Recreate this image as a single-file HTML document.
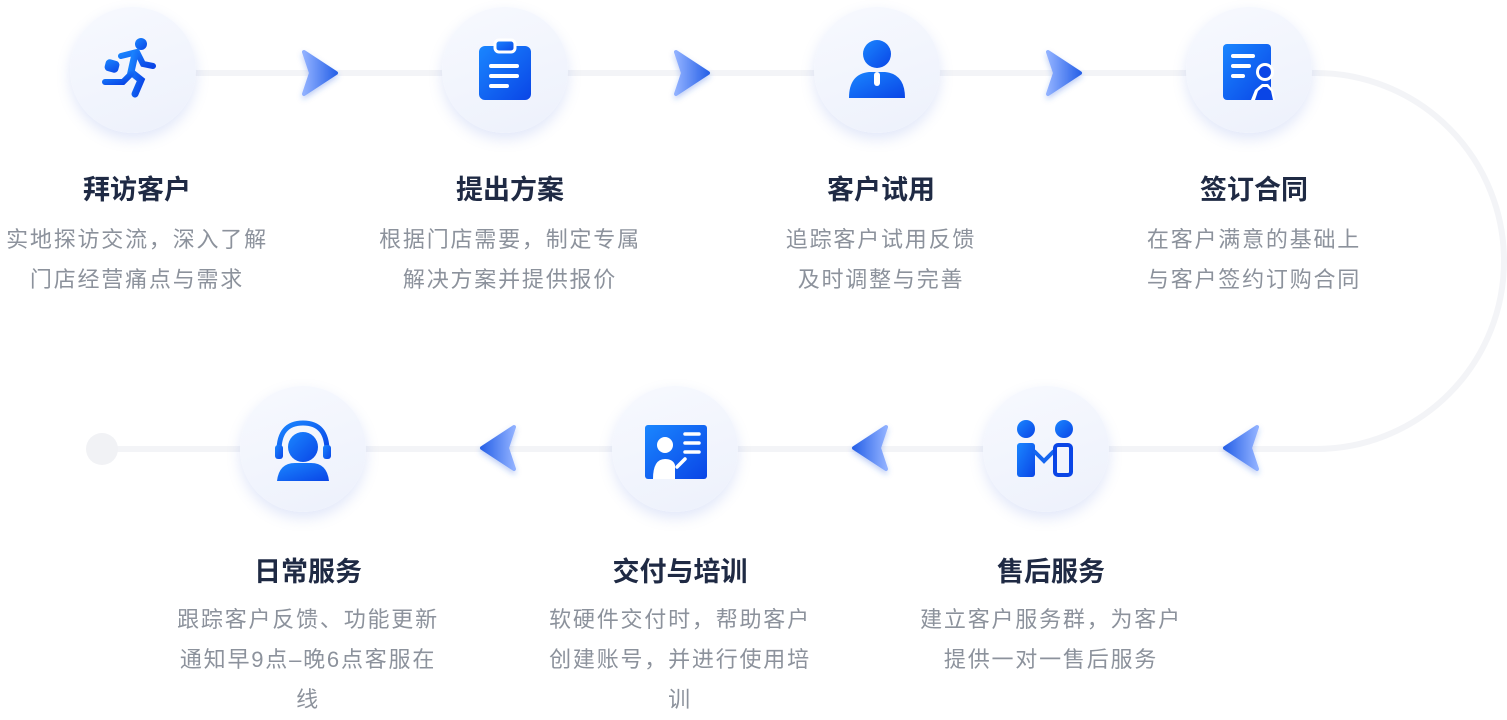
<!DOCTYPE html>
<html><head><meta charset="utf-8"><style>
body{margin:0;width:1507px;height:720px;background:#fff;overflow:hidden;position:relative;font-family:"Liberation Sans","Noto Sans CJK SC",sans-serif}
.c{position:absolute;width:126px;height:126px;border-radius:50%;background:linear-gradient(160deg,#f7f9fe,#edf1fc);box-shadow:0 6px 14px rgba(90,120,220,0.18)}
.c svg{position:absolute;left:31px;top:31px}
.t{position:absolute;width:300px;text-align:center;font-size:27px;font-weight:bold;color:#1f2a44}
.d{position:absolute;width:300px;text-align:center;font-size:22px;letter-spacing:1.8px;line-height:40px;color:#8c929c}
.d span{display:inline-block;width:275px}
</style></head><body>
<svg width="1507" height="720" style="position:absolute;left:0;top:0">
<defs>
<linearGradient id="ag" x1="0" x2="1"><stop offset="0" stop-color="#8fb0ff"/><stop offset="1" stop-color="#2a63e8"/></linearGradient>
<linearGradient id="ag2" x1="1" x2="0"><stop offset="0" stop-color="#8fb0ff"/><stop offset="1" stop-color="#2a63e8"/></linearGradient>
<filter id="sh"><feDropShadow dx="0" dy="3" stdDeviation="3" flood-color="#3060e0" flood-opacity="0.3"/></filter>
</defs>
<g stroke="#f3f4f7" stroke-width="6" fill="none">
<line x1="133" y1="73" x2="1316" y2="73"/>
<path d="M1316 73 A188 188 0 0 1 1316 449"/>
<line x1="102" y1="449" x2="1316" y2="449"/>
</g>
<circle cx="102" cy="449" r="16" fill="#f1f2f5"/>
<g filter="url(#sh)">
<path d="M304 52 L336 73 L304 94 L311 73Z" fill="url(#ag)" stroke="url(#ag)" stroke-width="4" stroke-linejoin="round"/>
<path d="M676 52 L708 73 L676 94 L683 73Z" fill="url(#ag)" stroke="url(#ag)" stroke-width="4" stroke-linejoin="round"/>
<path d="M1048 52 L1080 73 L1048 94 L1055 73Z" fill="url(#ag)" stroke="url(#ag)" stroke-width="4" stroke-linejoin="round"/>
<path d="M514 427 L482 448 L514 469 L507 448Z" fill="url(#ag2)" stroke="url(#ag2)" stroke-width="4" stroke-linejoin="round"/>
<path d="M886 427 L854 448 L886 469 L879 448Z" fill="url(#ag2)" stroke="url(#ag2)" stroke-width="4" stroke-linejoin="round"/>
<path d="M1257 427 L1225 448 L1257 469 L1250 448Z" fill="url(#ag2)" stroke="url(#ag2)" stroke-width="4" stroke-linejoin="round"/>
</g>
</svg>
<svg width="0" height="0" style="position:absolute"><defs><linearGradient id="ig" x1="0" y1="0" x2="1" y2="1"><stop offset="0" stop-color="#1a86ff"/><stop offset="1" stop-color="#0a45e6"/></linearGradient></defs></svg>

<div class="c" style="left:70px;top:7px"><svg width="64" height="64" viewBox="0 0 64 64"><g fill="url(#ig)" stroke="url(#ig)" stroke-linecap="round"><circle cx="40" cy="6" r="6" stroke="none"/><path d="M20 18 L36 14 L42 26 L52 28" fill="none" stroke-width="6"/><path d="M34 16 L30 34 L40 42 L34 56" fill="none" stroke-width="7"/><path d="M30 36 L22 44 L4 44" fill="none" stroke-width="6"/><rect x="4" y="22" width="14" height="12" rx="4" stroke="none" transform="rotate(15 11 28)"/></g></svg></div>
<div class="c" style="left:442px;top:7px"><svg width="64" height="64" viewBox="0 0 64 64"><rect x="6" y="8" width="52" height="54" rx="6" fill="url(#ig)"/><rect x="22" y="2" width="20" height="12" rx="4" fill="url(#ig)" stroke="#fff" stroke-width="3"/><g stroke="#fff" stroke-width="4" stroke-linecap="round"><line x1="18" y1="28" x2="44" y2="28"/><line x1="18" y1="38" x2="44" y2="38"/><line x1="18" y1="48" x2="34" y2="48"/></g></svg></div>
<div class="c" style="left:814px;top:7px"><svg width="64" height="64" viewBox="0 0 64 64"><circle cx="32" cy="16" r="14" fill="url(#ig)"/><path d="M4 60 Q4 36 24 34 L40 34 Q60 36 60 60Z" fill="url(#ig)"/><rect x="29" y="34" width="6" height="14" rx="3" fill="#fff"/></svg></div>
<div class="c" style="left:1186px;top:7px"><svg width="64" height="64" viewBox="0 0 64 64"><rect x="6" y="6" width="48" height="56" rx="4" fill="url(#ig)"/><g stroke="#fff" stroke-width="4" stroke-linecap="round"><line x1="16" y1="18" x2="36" y2="18"/><line x1="16" y1="28" x2="32" y2="28"/><line x1="16" y1="38" x2="26" y2="38"/></g><circle cx="48" cy="34" r="9" fill="#fff"/><circle cx="48" cy="34" r="6" fill="#0a45e6"/><path d="M34 62 L38 52 L45 46 L51 46 L56 52 L58 62Z" fill="#fff"/><path d="M38 62 L41 53 L46 49 L50 49 L54 53 L56 62Z" fill="#0a45e6"/></svg></div>

<div class="c" style="left:240px;top:386px"><svg width="64" height="64" viewBox="0 0 64 64"><path d="M8 34 Q8 6 32 6 Q56 6 56 34" fill="none" stroke="url(#ig)" stroke-width="5"/><circle cx="32" cy="30" r="15" fill="url(#ig)"/><rect x="4" y="28" width="8" height="14" rx="3" fill="url(#ig)"/><rect x="52" y="28" width="8" height="14" rx="3" fill="url(#ig)"/><path d="M6 64 Q8 46 24 46 L40 46 Q56 46 58 64Z" fill="url(#ig)"/></svg></div>
<div class="c" style="left:612px;top:386px"><svg width="64" height="64" viewBox="0 0 64 64"><rect x="2" y="8" width="62" height="54" rx="3" fill="url(#ig)"/><g stroke="#fff" stroke-width="3.5" stroke-linecap="round"><line x1="42" y1="17" x2="56" y2="17"/><line x1="42" y1="26" x2="56" y2="26"/><line x1="42" y1="35" x2="56" y2="35"/><line x1="34" y1="50" x2="42" y2="42"/></g><circle cx="22" cy="28" r="8" fill="#fff"/><path d="M10 62 Q10 42 22 42 Q30 42 32 48 L32 62Z" fill="#fff"/></svg></div>
<div class="c" style="left:983px;top:386px"><svg width="64" height="64" viewBox="0 0 64 64"><circle cx="12" cy="12" r="9" fill="url(#ig)"/><circle cx="50" cy="12" r="9" fill="url(#ig)"/><rect x="3" y="26" width="18" height="34" rx="3" fill="url(#ig)"/><path d="M20 34 L30 44 L40 34" stroke="#1566f0" stroke-width="4" fill="none"/><rect x="41" y="28" width="16" height="30" rx="3" fill="none" stroke="#0a45e6" stroke-width="4"/></svg></div>

<div class="t" style="left:-13px;top:168px">拜访客户</div>
<div class="d" style="left:-13px;top:220px"><span>实地探访交流，深入了解门店经营痛点与需求</span></div>
<div class="t" style="left:360px;top:168px">提出方案</div>
<div class="d" style="left:360px;top:220px"><span>根据门店需要，制定专属解决方案并提供报价</span></div>
<div class="t" style="left:731px;top:168px">客户试用</div>
<div class="d" style="left:731px;top:220px"><span>追踪客户试用反馈<br>及时调整与完善</span></div>
<div class="t" style="left:1104px;top:168px">签订合同</div>
<div class="d" style="left:1104px;top:220px"><span>在客户满意的基础上<br>与客户签约订购合同</span></div>

<div class="t" style="left:158px;top:550px">日常服务</div>
<div class="d" style="left:158px;top:600px"><span>跟踪客户反馈、功能更新通知早9点–晚6点客服在线</span></div>
<div class="t" style="left:530px;top:550px">交付与培训</div>
<div class="d" style="left:530px;top:600px"><span>软硬件交付时，帮助客户创建账号，并进行使用培训</span></div>
<div class="t" style="left:901px;top:550px">售后服务</div>
<div class="d" style="left:901px;top:600px"><span>建立客户服务群，为客户提供一对一售后服务</span></div>
</body></html>
